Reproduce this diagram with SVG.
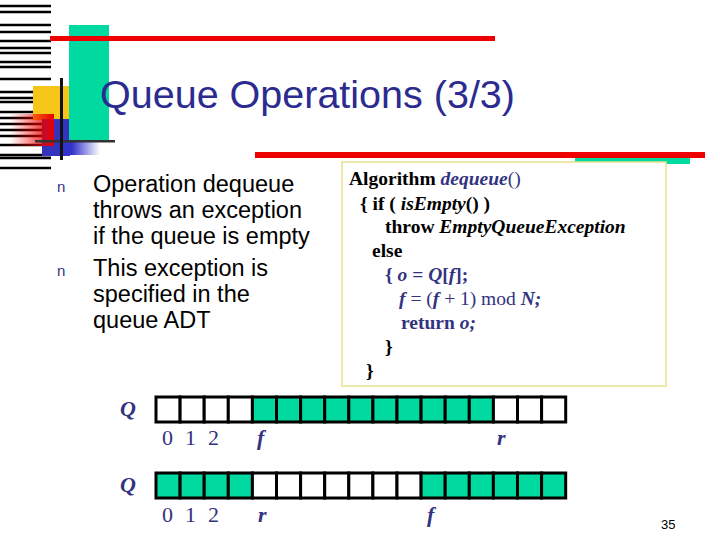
<svg xmlns="http://www.w3.org/2000/svg" width="720" height="540" viewBox="0 0 720 540">
<style>
.code{font-family:"Liberation Serif",serif;font-size:19.5px;font-weight:bold;fill:#000}
.b{fill:#333380}
.it{font-style:italic}
.bul{font-family:"Liberation Sans",sans-serif;font-size:23.5px;fill:#000}
.lbl{font-family:"Liberation Serif",serif;font-size:22px;fill:#333380}
.cell{stroke:#000;stroke-width:3}
.g{fill:#00d9a0}
.w{fill:#fff}
</style>
<defs>
<linearGradient id="rg" x1="1" x2="0" y1="0" y2="0"><stop offset="0" stop-color="#e60000"/><stop offset="1" stop-color="#ff0000" stop-opacity="0"/></linearGradient>
<linearGradient id="bg" x1="0" x2="1"><stop offset="0.3" stop-color="#3333cc"/><stop offset="1" stop-color="#3333cc" stop-opacity="0"/></linearGradient>
</defs>
<g id="decoration">
<g stroke="#000" stroke-width="2.5">
<path d="M0 6H51M0 12H51M0 25H51M0 32H51M0 41H51M0 48H51M0 53H51M0 62H51M0 67H51M0 79H51M0 92H51M0 98H51M0 102H51M0 112H51M0 118H51M0 124H51M0 130H51M0 136H51M0 145H51M0 155H51M0 158H51M0 168H51"/>
</g>
<rect x="33" y="86" width="36" height="34" fill="#f5c518"/>
<rect x="42" y="119" width="28" height="37" fill="#3333bb"/>
<rect x="60" y="138" width="40" height="17" fill="url(#bg)"/>
<rect x="10" y="114" width="44" height="32" fill="url(#rg)"/>
<rect x="69" y="25" width="40" height="116" fill="#00d9a0"/>
<rect x="50" y="36" width="445" height="5" fill="#ee0000"/>
<rect x="35" y="140" width="80" height="2.5" fill="#333"/>
<rect x="60" y="78" width="3" height="82" fill="#111"/>
<rect x="255" y="152" width="450" height="6" fill="#ee0000"/>
<rect x="575" y="158" width="115" height="6" fill="#00d9a0"/>
</g>
<text x="100" y="108" font-family="Liberation Sans,sans-serif" font-size="39.5" fill="#2b2b90">Queue Operations (3/3)</text>
<g id="bullets">
<text x="57" y="192" font-family="Liberation Sans,sans-serif" font-size="15" fill="#333380">n</text>
<text x="57" y="276" font-family="Liberation Sans,sans-serif" font-size="15" fill="#333380">n</text>
<text class="bul" x="93" y="192">Operation dequeue</text>
<text class="bul" x="93" y="218">throws an exception</text>
<text class="bul" x="93" y="244">if the queue is empty</text>
<text class="bul" x="93" y="276">This exception is</text>
<text class="bul" x="93" y="302">specified in the</text>
<text class="bul" x="93" y="328">queue ADT</text>
</g>
<g id="code">
<rect x="342" y="162" width="324" height="224" fill="#fff" stroke="#e8e090" stroke-width="1.5"/>
<text class="code" x="349" y="185">Algorithm <tspan class="b it">dequeue</tspan><tspan class="b" font-weight="normal">()</tspan></text>
<text class="code" x="360" y="210">{ if ( <tspan class="it">isEmpty</tspan>() )</text>
<text class="code" x="385" y="233">throw <tspan class="it">EmptyQueueException</tspan></text>
<text class="code" x="372" y="257">else</text>
<text class="code b" x="385" y="281">{ <tspan class="it">o</tspan> = <tspan class="it">Q</tspan>[<tspan class="it">f</tspan>];</text>
<text class="code b" x="399" y="305"><tspan class="it">f</tspan><tspan font-weight="normal"> = (</tspan><tspan class="it">f</tspan><tspan font-weight="normal"> + 1) mod </tspan><tspan class="it">N;</tspan></text>
<text class="code b" x="401" y="329">return <tspan class="it">o;</tspan></text>
<text class="code" x="385" y="353" font-weight="normal">}</text>
<text class="code" x="366" y="377" font-weight="normal">}</text>
</g>
<g id="array1">
<text class="lbl" x="120" y="416" font-size="25" font-weight="bold" font-style="italic">Q</text>
<g class="cell">
<rect class="w" x="156" y="397" width="24.1" height="25"/><rect class="w" x="180.1" y="397" width="24.1" height="25"/><rect class="w" x="204.2" y="397" width="24.1" height="25"/><rect class="w" x="228.3" y="397" width="24.1" height="25"/>
<rect class="g" x="252.4" y="397" width="24.1" height="25"/><rect class="g" x="276.5" y="397" width="24.1" height="25"/><rect class="g" x="300.6" y="397" width="24.1" height="25"/><rect class="g" x="324.7" y="397" width="24.1" height="25"/><rect class="g" x="348.8" y="397" width="24.1" height="25"/><rect class="g" x="372.9" y="397" width="24.1" height="25"/><rect class="g" x="397" y="397" width="24.1" height="25"/><rect class="g" x="421.1" y="397" width="24.1" height="25"/><rect class="g" x="445.2" y="397" width="24.1" height="25"/><rect class="g" x="469.3" y="397" width="24.1" height="25"/>
<rect class="w" x="493.4" y="397" width="24.1" height="25"/><rect class="w" x="517.5" y="397" width="24.1" height="25"/><rect class="w" x="541.6" y="397" width="24.1" height="25"/>
</g>
<text class="lbl" x="162" y="445">0</text><text class="lbl" x="185" y="445">1</text><text class="lbl" x="208" y="445">2</text>
<text class="lbl it" x="257" y="445" font-weight="bold">f</text>
<text class="lbl it" x="497" y="445" font-weight="bold">r</text>
</g>
<g id="array2">
<text class="lbl" x="120" y="492" font-size="25" font-weight="bold" font-style="italic">Q</text>
<g class="cell">
<rect class="g" x="156" y="473" width="24.1" height="25"/><rect class="g" x="180.1" y="473" width="24.1" height="25"/><rect class="g" x="204.2" y="473" width="24.1" height="25"/><rect class="g" x="228.3" y="473" width="24.1" height="25"/>
<rect class="w" x="252.4" y="473" width="24.1" height="25"/><rect class="w" x="276.5" y="473" width="24.1" height="25"/><rect class="w" x="300.6" y="473" width="24.1" height="25"/><rect class="w" x="324.7" y="473" width="24.1" height="25"/><rect class="w" x="348.8" y="473" width="24.1" height="25"/><rect class="w" x="372.9" y="473" width="24.1" height="25"/><rect class="w" x="397" y="473" width="24.1" height="25"/>
<rect class="g" x="421.1" y="473" width="24.1" height="25"/><rect class="g" x="445.2" y="473" width="24.1" height="25"/><rect class="g" x="469.3" y="473" width="24.1" height="25"/><rect class="g" x="493.4" y="473" width="24.1" height="25"/><rect class="g" x="517.5" y="473" width="24.1" height="25"/><rect class="g" x="541.6" y="473" width="24.1" height="25"/>
</g>
<text class="lbl" x="162" y="522">0</text><text class="lbl" x="185" y="522">1</text><text class="lbl" x="208" y="522">2</text>
<text class="lbl it" x="258" y="522" font-weight="bold">r</text>
<text class="lbl it" x="427" y="522" font-weight="bold">f</text>
</g>
<text x="661" y="529" font-family="Liberation Sans,sans-serif" font-size="13" fill="#000">35</text>
</svg>
